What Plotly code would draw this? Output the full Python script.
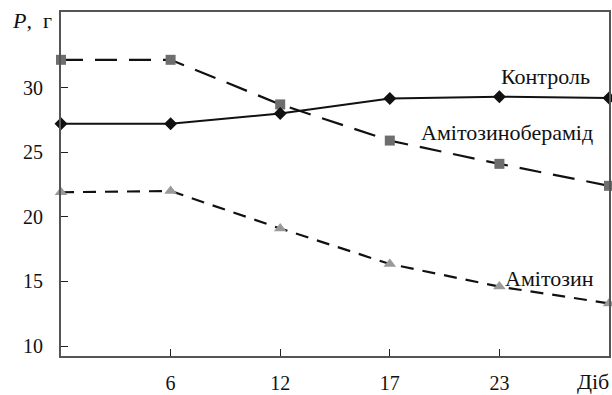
import plotly.graph_objects as go

positions = [0, 1, 2, 3, 4, 5]
tick_labels = ["6", "12", "17", "23"]
tick_positions = [1, 2, 3, 4]
y_ticks = [10, 15, 20, 25, 30]

kontrol = [27.2, 27.2, 28.0, 29.15, 29.3, 29.2]
amitozinoberamid = [32.15, 32.15, 28.7, 25.9, 24.1, 22.4]
amitozin = [21.9, 22.0, 19.1, 16.35, 14.6, 13.3]

FONT = "Liberation Serif, serif"

fig = go.Figure()
fig.add_trace(go.Scatter(
    x=positions, y=amitozinoberamid, mode="lines+markers", cliponaxis=False,
    line=dict(color="#111111", width=2.2, dash="22px,12px"),
    marker=dict(symbol="square", size=10, color="#6e6e6e"),
))
fig.add_trace(go.Scatter(
    x=positions, y=amitozin, mode="lines+markers", cliponaxis=False,
    line=dict(color="#111111", width=2.2, dash="13px,9px"),
    marker=dict(symbol="triangle-up", size=11, color="#9a9a9a"),
))
fig.add_trace(go.Scatter(
    x=positions, y=kontrol, mode="lines+markers", cliponaxis=False,
    line=dict(color="#111111", width=2),
    marker=dict(symbol="diamond", size=10, color="#111111"),
))

ann_font = dict(family=FONT, size=22, color="#111111")
fig.add_annotation(x=4.42, y=30.85, text="Контроль", showarrow=False, font=ann_font)
fig.add_annotation(x=4.07, y=26.5, text="Амітозиноберамід", showarrow=False, font=ann_font)
fig.add_annotation(x=4.46, y=15.23, text="Амітозин", showarrow=False, font=ann_font)
fig.add_annotation(x=5, xref="x", xanchor="right", xshift=2, y=0, yref="paper", yanchor="middle",
                   yshift=-25, text="Діб", showarrow=False, font=ann_font)
fig.add_annotation(x=0, xref="paper", xanchor="right", xshift=-7, y=1, yref="paper",
                   yanchor="middle", yshift=-8, text="<i>P</i>,  г", showarrow=False, font=ann_font)

fig.update_layout(
    width=612, height=395,
    margin=dict(l=61, r=1, t=12, b=37),
    plot_bgcolor="white", paper_bgcolor="white",
    showlegend=False,
    font=dict(family=FONT, size=20, color="#111111"),
)
fig.update_xaxes(
    range=[0, 5], tickvals=tick_positions, ticktext=tick_labels,
    ticks="inside", ticklen=7, tickcolor="#222222", tickwidth=1.3,
    showgrid=False, zeroline=False,
    showline=True, linecolor="#555555", linewidth=1.8, mirror=True,
    ticklabelstandoff=8,
)
fig.update_yaxes(
    range=[9.23, 35.85], tickvals=y_ticks,
    ticks="inside", ticklen=7, tickcolor="#222222", tickwidth=1.3,
    showgrid=False, zeroline=False,
    showline=True, linecolor="#555555", linewidth=1.8, mirror=True,
    ticklabelstandoff=12,
)

fig.write_html("out.html", config={"displayModeBar": False},
               post_script="document.body.style.margin='0';document.body.style.overflow='hidden';")
